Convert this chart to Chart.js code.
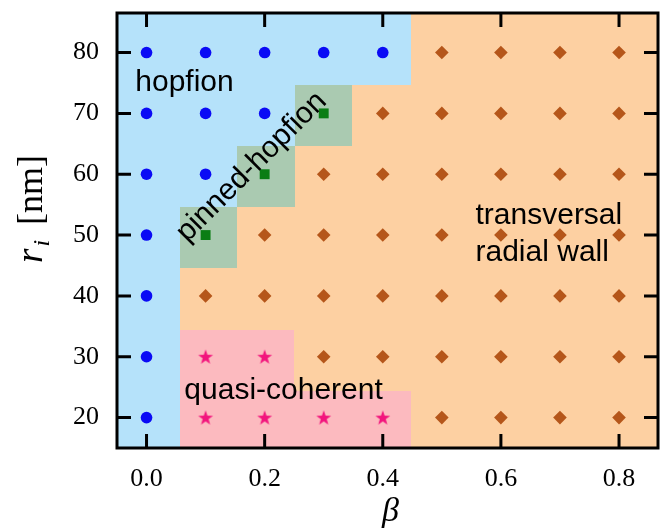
<!DOCTYPE html>
<html>
<head>
<meta charset="utf-8">
<script src="https://cdn.jsdelivr.net/npm/chart.js@4.4.0/dist/chart.umd.min.js"></script>
<style>
  html, body { margin: 0; padding: 0; background: #fff; }
</style>
</head>
<body>
<canvas id="phase" width="670" height="531"></canvas>
<script>
// axis ticks
const betaTicks = [0.0, 0.2, 0.4, 0.6, 0.8];
const radiusTicks = [20, 30, 40, 50, 60, 70, 80];
const betaRange = [-0.05, 0.866];
const radiusRange = [15, 86.5];

// simulated states, [beta, r_i]
const hopfionPts = [
  [0.0, 20], [0.0, 30], [0.0, 40], [0.0, 50], [0.0, 60], [0.0, 70], [0.0, 80],
  [0.1, 60], [0.1, 70], [0.1, 80],
  [0.2, 70], [0.2, 80],
  [0.3, 80],
  [0.4, 80]
];
const pinnedPts = [[0.1, 50], [0.2, 60], [0.3, 70]];
const quasiPts = [
  [0.1, 20], [0.1, 30], [0.2, 20], [0.2, 30], [0.3, 20], [0.4, 20]
];
const wallPts = [
  [0.1, 40],
  [0.2, 40], [0.2, 50],
  [0.3, 30], [0.3, 40], [0.3, 50], [0.3, 60],
  [0.4, 30], [0.4, 40], [0.4, 50], [0.4, 60], [0.4, 70],
  [0.5, 20], [0.5, 30], [0.5, 40], [0.5, 50], [0.5, 60], [0.5, 70], [0.5, 80],
  [0.6, 20], [0.6, 30], [0.6, 40], [0.6, 50], [0.6, 60], [0.6, 70], [0.6, 80],
  [0.7, 20], [0.7, 30], [0.7, 40], [0.7, 50], [0.7, 60], [0.7, 70], [0.7, 80],
  [0.8, 20], [0.8, 30], [0.8, 40], [0.8, 50], [0.8, 60], [0.8, 70], [0.8, 80]
];

// phase regions, boxes as [beta0, beta1, r0, r1]
const wallRegion = [[-0.05, 0.866, 15, 86.5]];
const hopfionRegion = [
  [-0.05, 0.056, 15, 86.5], [0.056, 0.153, 54.6, 86.5],
  [0.153, 0.252, 64.6, 86.5], [0.252, 0.448, 74.6, 86.5]
];
const pinnedRegion = [
  [0.056, 0.153, 44.6, 54.6], [0.153, 0.252, 54.6, 64.6], [0.252, 0.348, 64.6, 74.6]
];
const quasiRegion = [[0.056, 0.249, 15, 34.4], [0.249, 0.448, 15, 24.4]];

const toXY = arr => arr.map(p => ({x: p[0], y: p[1]}));

function starImage(r, color) {
  const c = document.createElement('canvas');
  const s = Math.ceil(r * 2) + 2;
  c.width = s; c.height = s;
  const g = c.getContext('2d');
  g.fillStyle = color;
  g.beginPath();
  for (let i = 0; i < 10; i++) {
    const a = -Math.PI / 2 + i * Math.PI / 5;
    const rr = i % 2 ? r * 0.4 : r;
    g.lineTo(s / 2 + rr * Math.cos(a), s / 2 + 0.6 + rr * Math.sin(a));
  }
  g.closePath();
  g.fill();
  return c;
}

const regionPlugin = {
  id: 'regions',
  beforeDatasetsDraw(chart) {
    const {ctx, chartArea: a, scales: {x, y}} = chart;
    const layers = [
      [wallRegion, '#fdd0a2'],
      [hopfionRegion, '#b5e2fa'],
      [pinnedRegion, '#aacab1'],
      [quasiRegion, '#fcbabf']
    ];
    ctx.save();
    ctx.beginPath();
    ctx.rect(a.left, a.top, a.width, a.height);
    ctx.clip();
    layers.forEach(([boxes, color]) => {
      ctx.fillStyle = color;
      boxes.forEach(b => {
        const x0 = Math.round(x.getPixelForValue(b[0]));
        const x1 = Math.round(x.getPixelForValue(b[1]));
        const y0 = Math.round(y.getPixelForValue(b[2]));
        const y1 = Math.round(y.getPixelForValue(b[3]));
        ctx.fillRect(x0, y1, x1 - x0, y0 - y1);
      });
    });
    ctx.restore();
  }
};

const labelPlugin = {
  id: 'labels',
  afterDatasetsDraw(chart) {
    const {ctx, chartArea: a, scales: {x, y}} = chart;
    ctx.save();
    ctx.fillStyle = '#000';
    ctx.font = '30px "Liberation Sans", Arial, sans-serif';
    ctx.textAlign = 'left';
    ctx.textBaseline = 'alphabetic';
    ctx.fillText('hopfion', x.getPixelForValue(-0.019), y.getPixelForValue(73.6));
    ctx.fillText('quasi-coherent', x.getPixelForValue(0.064), y.getPixelForValue(23.1));
    ctx.fillText('transversal', x.getPixelForValue(0.557), y.getPixelForValue(51.9));
    ctx.fillText('radial wall', x.getPixelForValue(0.557), y.getPixelForValue(45.8));

    ctx.save();
    ctx.translate(x.getPixelForValue(0.178), y.getPixelForValue(61.2));
    ctx.rotate(-Math.PI / 4);
    ctx.textAlign = 'center';
    ctx.textBaseline = 'middle';
    ctx.fillText('pinned-hopfion', 0, 0);
    ctx.restore();

    // frame with inward ticks
    ctx.strokeStyle = '#000';
    ctx.lineWidth = 3;
    ctx.strokeRect(a.left, a.top, a.width, a.height);
    const tl = 14;
    ctx.beginPath();
    betaTicks.forEach(v => {
      const px = x.getPixelForValue(v);
      ctx.moveTo(px, a.bottom); ctx.lineTo(px, a.bottom - tl);
      ctx.moveTo(px, a.top); ctx.lineTo(px, a.top + tl);
    });
    radiusTicks.forEach(v => {
      const py = y.getPixelForValue(v);
      ctx.moveTo(a.left, py); ctx.lineTo(a.left + tl, py);
      ctx.moveTo(a.right, py); ctx.lineTo(a.right - tl, py);
    });
    ctx.stroke();

    // axis titles
    ctx.textAlign = 'center';
    ctx.textBaseline = 'alphabetic';
    ctx.font = 'italic 34px "Liberation Serif", "Times New Roman", serif';
    ctx.fillText('\u03b2', (a.left + a.right) / 2 + 3, 521);

    ctx.save();
    ctx.translate(42, 263);
    ctx.rotate(-Math.PI / 2);
    ctx.textAlign = 'left';
    ctx.font = 'italic 37px "Liberation Serif", "Times New Roman", serif';
    ctx.fillText('r', 0, 0);
    const rw = ctx.measureText('r').width;
    ctx.font = 'italic 24px "Liberation Serif", "Times New Roman", serif';
    ctx.fillText('i', rw + 2, 7);
    ctx.font = '36px "Liberation Serif", "Times New Roman", serif';
    ctx.fillText('[nm]', 38, 0);
    ctx.restore();

    ctx.restore();
  }
};

const tickFont = {family: '"Liberation Serif", "Times New Roman", serif', size: 26};

new Chart(document.getElementById('phase'), {
  type: 'scatter',
  data: {
    datasets: [
      {
        label: 'hopfion',
        data: toXY(hopfionPts),
        pointStyle: 'circle',
        pointRadius: 5.8,
        backgroundColor: '#0a0af5',
        borderWidth: 0
      },
      {
        label: 'pinned-hopfion',
        data: toXY(pinnedPts),
        pointStyle: 'rect',
        pointRadius: 7,
        backgroundColor: '#0a7d14',
        borderWidth: 0
      },
      {
        label: 'quasi-coherent',
        data: toXY(quasiPts),
        pointStyle: starImage(7.8, '#f2157d'),
        pointRadius: 7,
        borderWidth: 0
      },
      {
        label: 'transversal radial wall',
        data: toXY(wallPts),
        pointStyle: 'rectRot',
        pointRadius: 6.8,
        backgroundColor: '#b5561a',
        borderWidth: 0
      }
    ]
  },
  options: {
    responsive: false,
    animation: false,
    devicePixelRatio: 1,
    layout: {padding: {top: 13, right: 12, left: 0, bottom: 0}},
    plugins: {
      legend: {display: false},
      tooltip: {enabled: false}
    },
    scales: {
      x: {
        type: 'linear',
        min: betaRange[0],
        max: betaRange[1],
        grid: {display: false, drawTicks: false},
        border: {display: false},
        afterBuildTicks: s => { s.ticks = betaTicks.map(v => ({value: v})); },
        afterFit: s => { s.height = 83; s.paddingLeft = 0; s.paddingRight = 0; },
        ticks: {
          font: tickFont,
          color: '#000',
          padding: 16,
          maxRotation: 0,
          callback: v => v.toFixed(1)
        }
      },
      y: {
        type: 'linear',
        min: radiusRange[0],
        max: radiusRange[1],
        grid: {display: false, drawTicks: false},
        border: {display: false},
        afterBuildTicks: s => { s.ticks = radiusTicks.map(v => ({value: v})); },
        afterFit: s => { s.width = 117; s.paddingTop = 0; s.paddingBottom = 0; },
        ticks: {
          font: tickFont,
          color: '#000',
          padding: 18,
          callback: v => String(v)
        }
      }
    }
  },
  plugins: [regionPlugin, labelPlugin]
});
</script>
</body>
</html>
